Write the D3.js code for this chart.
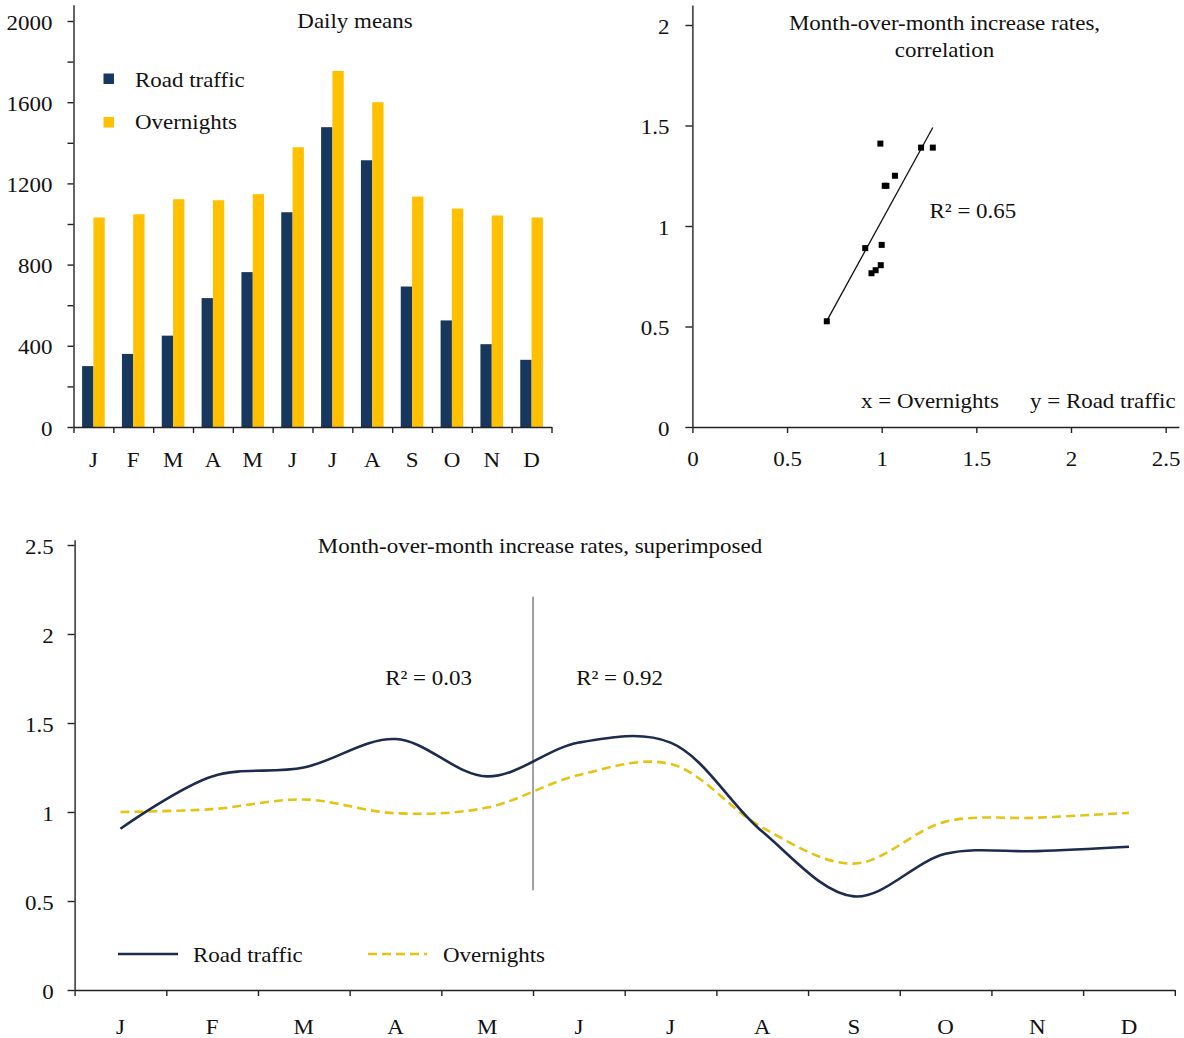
<!DOCTYPE html>
<html><head><meta charset="utf-8">
<script src="https://cdn.jsdelivr.net/npm/d3@7"></script>
<style>
html,body{margin:0;padding:0;background:#fff;overflow:hidden}
svg{display:block}
text{font-family:"Liberation Serif","Times New Roman",serif;font-size:20.5px;fill:#111}
.axis path,.axis line{stroke:#222;stroke-width:1.4}
</style>
</head><body><svg id="c" width="1184" height="1038"></svg>
<script>
// ---------- data ----------
const months = ["J","F","M","A","M","J","J","A","S","O","N","D"];
const roadDaily = [300,360,450,635,763,1058,1477,1314,692,525,408,331];
const overnightsDaily = [1032,1048,1122,1117,1147,1378,1754,1600,1135,1076,1042,1032];
const barTickValues = [0,200,400,600,800,1000,1200,1400,1600,1800,2000];
const barLabelStep = 400;
const roadRate = [0.906,1.20,1.25,1.41,1.20,1.39,1.39,0.89,0.526,0.765,0.78,0.805];
const overnightsRate = [1.0,1.016,1.07,0.993,1.025,1.208,1.27,0.913,0.71,0.946,0.968,0.995];
const scatterTicks = [0,0.5,1,1.5,2,2.5];
const scatterYTicks = [0,0.5,1,1.5,2];
const lineTicks = [0,0.5,1,1.5,2,2.5];
const splitRange = [0.56,2.21];   // vertical separator between May and June
const seriesNames = ["Road traffic","Overnights"];
const titles = ["Daily means","Month-over-month increase rates,","correlation","Month-over-month increase rates, superimposed"];
const r2Texts = ["R² = 0.65","R² = 0.03","R² = 0.92"];
const axisNotes = ["x = Overnights","y = Road traffic"];

const C_ROAD="#17375e", C_OVER="#ffc000", C_ROADLINE="#1d2b4c", C_OVERLINE="#e3c413";
const SX=1.12;
const svg=d3.select("#c");
function T(g,x,y,s,anchor){
  return g.append("text").attr("transform",`translate(${x},${y}) scale(${SX},1)`)
    .attr("text-anchor",anchor||"middle").text(s);
}
function styleYLabels(ax,right){
  ax.selectAll(".tick text").attr("x",-right/SX).attr("dy",8).attr("transform",`scale(${SX},1)`)
    .attr("text-anchor","end").style("font-size","20.5px").style("font-family","Liberation Serif").attr("fill","#111");
}

// ---------- Chart 1: bars ----------
{
  const g=svg.append("g");
  const x0=73.5,x1=551.5;
  const y=d3.scaleLinear().domain([0,2080]).range([427,427-2080*0.203]);
  const xb=d3.scaleBand().domain(d3.range(12)).range([x0,x1]);
  const xs=d3.scaleBand().domain([0,1]).range([0,xb.bandwidth()]).paddingOuter(0.76);
  const xl=d3.scaleLinear().domain([0,12]).range([x0,x1]);
  const data=d3.range(12).map(i=>({i,v:[roadDaily[i],overnightsDaily[i]]}));
  const grp=g.selectAll("g.m").data(data).join("g").attr("transform",d=>`translate(${xb(d.i)},0)`);
  grp.selectAll("rect").data(d=>d.v.map((v,k)=>({v,k}))).join("rect")
    .attr("x",d=>xs(d.k)).attr("width",xs.bandwidth())
    .attr("y",d=>y(d.v)).attr("height",d=>y(0)-y(d.v))
    .attr("fill",d=>d.k===0?C_ROAD:C_OVER);
  const ay=g.append("g").attr("class","axis").attr("transform",`translate(${x0},0)`)
    .call(d3.axisLeft(y).tickValues(barTickValues).tickSize(6).tickSizeOuter(0)
      .tickFormat(d=>d%barLabelStep===0?d:""));
  styleYLabels(ay,21);
  g.append("g").attr("class","axis").attr("transform",`translate(0,${y(0)})`)
    .call(d3.axisBottom(xl).tickValues(d3.range(13)).tickSize(6).tickSizeOuter(0).tickFormat(""));
  d3.range(12).forEach(i=>T(g,xb(i)+xb.bandwidth()/2,466.5,months[i]));
  T(g,355,28,titles[0]);
  // legend
  [C_ROAD,C_OVER].forEach((c,k)=>{
    g.append("rect").attr("x",103.5).attr("y",73.5+k*43.5).attr("width",10.5).attr("height",10.5).attr("fill",c);
    T(g,135,86.5+k*42,seriesNames[k],"start");
  });
}

// ---------- Chart 2: scatter ----------
{
  const g=svg.append("g");
  const x=d3.scaleLinear().domain([0,2.57]).range([692.4,692.4+2.57*189.3]);
  const y=d3.scaleLinear().domain([0,2.1]).range([427,427-2.1*201]);
  const pts=d3.range(12).map(i=>({x:overnightsRate[i],y:roadRate[i]}));
  // regression
  const mx=d3.mean(pts,d=>d.x), my=d3.mean(pts,d=>d.y);
  const b=d3.sum(pts,d=>(d.x-mx)*(d.y-my))/d3.sum(pts,d=>(d.x-mx)**2);
  const a=my-b*mx;
  const ex=d3.extent(pts,d=>d.x);
  g.append("line").attr("x1",x(ex[0])).attr("y1",y(a+b*ex[0])).attr("x2",x(ex[1])).attr("y2",y(a+b*ex[1]))
    .attr("stroke","#111").attr("stroke-width",1.3);
  g.selectAll("rect.p").data(pts).join("rect").attr("class","p")
    .attr("x",d=>x(d.x)-3).attr("y",d=>y(d.y)-3).attr("width",6).attr("height",6).attr("fill","#000");
  const ay=g.append("g").attr("class","axis").attr("transform",`translate(${x(0)},0)`)
    .call(d3.axisLeft(y).tickValues(scatterYTicks).tickSize(7).tickSizeOuter(0).tickFormat(d=>d));
  styleYLabels(ay,23);
  const ax=g.append("g").attr("class","axis").attr("transform",`translate(0,${y(0)})`)
    .call(d3.axisBottom(x).tickValues(scatterTicks).tickSize(6).tickSizeOuter(0).tickFormat(d=>d));
  ax.selectAll(".tick text").attr("x",0).attr("y",0).attr("dy",39).attr("transform",`scale(${SX},1)`)
    .style("font-size","20.5px").style("font-family","Liberation Serif").attr("fill","#111");
  T(g,944.5,29.5,titles[1]);
  T(g,944.5,56.5,titles[2]);
  T(g,929.5,218,r2Texts[0],"start");
  T(g,861,408,axisNotes[0],"start");
  T(g,1030,408,axisNotes[1],"start");
}

// ---------- Chart 3: lines ----------
{
  const g=svg.append("g");
  const x0=74.6,x1=1174.8;
  const xl=d3.scaleLinear().domain([0,12]).range([x0,x1]);
  const xc=i=>xl(i+0.5);
  const y=d3.scaleLinear().domain([0,2.53]).range([990,990-2.53*178]);
  const ay=g.append("g").attr("class","axis").attr("transform",`translate(${x0},0)`)
    .call(d3.axisLeft(y).tickValues(lineTicks).tickSize(7).tickSizeOuter(0).tickFormat(d=>d));
  styleYLabels(ay,21);
  g.append("g").attr("class","axis").attr("transform",`translate(0,${y(0)})`)
    .call(d3.axisBottom(xl).tickValues(d3.range(13)).tickSize(6).tickSizeOuter(0).tickFormat(""));
  d3.range(12).forEach(i=>T(g,xc(i),1033.5,months[i]));
  // separator
  g.append("line").attr("x1",xl(5)).attr("x2",xl(5)).attr("y1",y(splitRange[1])).attr("y2",y(splitRange[0]))
    .attr("stroke","#444").attr("stroke-width",1);
  const line=d3.line().x((d,i)=>xc(i)).y(d=>y(d)).curve(d3.curveCatmullRom.alpha(0.5));
  g.append("path").datum(overnightsRate).attr("d",line).attr("fill","none")
    .attr("stroke",C_OVERLINE).attr("stroke-width",2.6).attr("stroke-dasharray","9,5");
  g.append("path").datum(roadRate).attr("d",line).attr("fill","none")
    .attr("stroke",C_ROADLINE).attr("stroke-width",2.6);
  T(g,540,553,titles[3]);
  T(g,428.5,685,r2Texts[1]);
  T(g,619.5,685,r2Texts[2]);
  // legend
  g.append("line").attr("x1",118).attr("x2",178).attr("y1",954).attr("y2",954)
    .attr("stroke",C_ROADLINE).attr("stroke-width",2.6);
  T(g,193,961.5,seriesNames[0],"start");
  g.append("line").attr("x1",368).attr("x2",427).attr("y1",954).attr("y2",954)
    .attr("stroke",C_OVERLINE).attr("stroke-width",2.6).attr("stroke-dasharray","9,5");
  T(g,443,961.5,seriesNames[1],"start");
}
</script>
</body></html>
